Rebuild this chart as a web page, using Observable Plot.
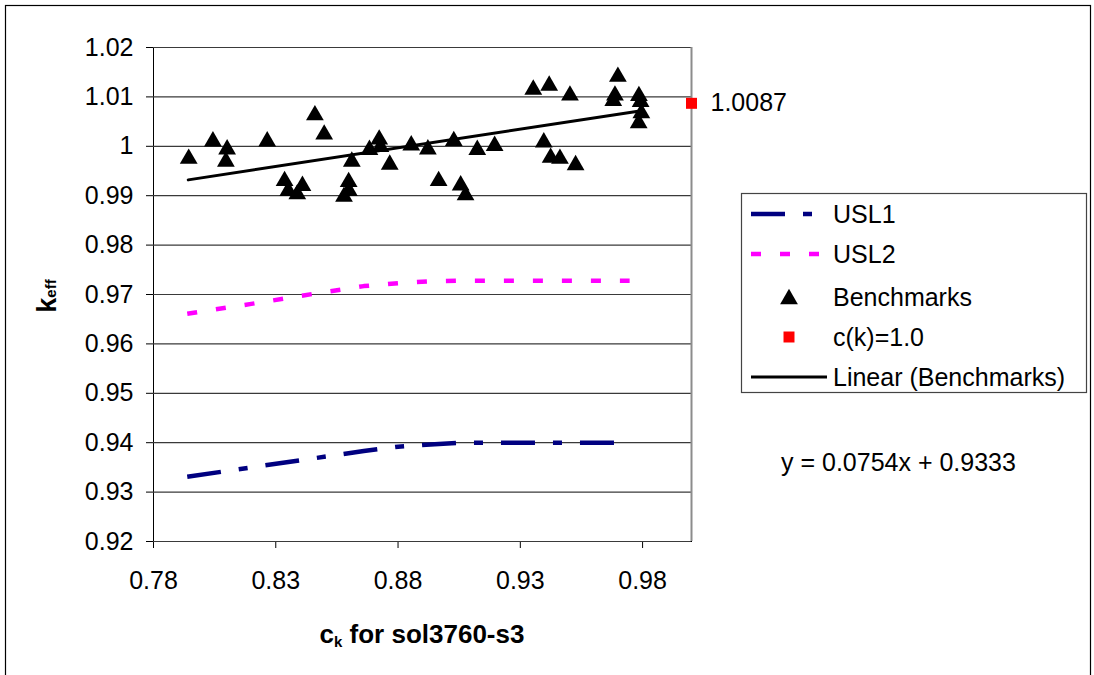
<!DOCTYPE html>
<html>
<head>
<meta charset="utf-8">
<script src="https://cdn.jsdelivr.net/npm/d3@7"></script>
<script src="https://cdn.jsdelivr.net/npm/@observablehq/plot@0.6"></script>
<style>
  html, body { margin: 0; padding: 0; background: #fff; }
  #wrap { position: relative; width: 1094px; height: 675px; overflow: hidden; font-family: "Liberation Sans", Arial, sans-serif; }
  #wrap svg { position: absolute; left: 0; top: 0; }
</style>
</head>
<body>
<div id="wrap"></div>
<script>
// ---- data ----
const benchX = [0.7944, 0.8043, 0.8101, 0.8096, 0.8265, 0.8460, 0.8498, 0.8336, 0.8351, 0.8388,
                0.8409, 0.8611, 0.8598, 0.8599, 0.8579, 0.8683, 0.8723, 0.8728, 0.8766, 0.8854,
                0.8922, 0.9028, 0.9124, 0.9195, 0.8966, 0.9056, 0.9076, 0.9396, 0.9424, 0.9462,
                0.9526, 0.9353, 0.9418, 0.9503, 0.9699, 0.9687, 0.9680, 0.9785, 0.9792, 0.9795, 0.9784];
const benchY = [0.9979, 1.0014, 0.9998, 0.9973, 1.0014, 1.0067, 1.0028, 0.9934, 0.9914, 0.9907,
                0.9924, 0.9973, 0.9932, 0.9914, 0.9902, 0.9997, 1.0018, 1.0003, 0.9967, 1.0006,
                0.9998, 1.0015, 0.9997, 1.0005, 0.9934, 0.9925, 0.9905, 1.0012, 0.9981, 0.9979,
                0.9966, 1.0119, 1.0127, 1.0107, 1.0145, 1.0107, 1.0096, 1.0106, 1.0094, 1.0071, 1.0051];

const uslX  = [0.7938, 0.8200, 0.8450, 0.8660, 0.8800, 0.8950, 0.9050, 0.9747];
const usl1Y = [0.9331, 0.9350, 0.9368, 0.9383, 0.9392, 0.9397, 0.9400, 0.9400];
const usl2Y = [0.9661, 0.9681, 0.9701, 0.9717, 0.9723, 0.9727, 0.9728, 0.9728];

const trendX = [0.7942, 0.9795];
const trendY = [0.9932, 1.0072];

const ckX = [1.0];
const ckY = [1.0087];
const ckLabel = ["1.0087"];

const xTicks = [0.78, 0.83, 0.88, 0.93, 0.98];
const yTicks = [0.92, 0.93, 0.94, 0.95, 0.96, 0.97, 0.98, 0.99, 1.00, 1.01, 1.02];

const legendLabels = ["USL1", "USL2", "Benchmarks", "c(k)=1.0", "Linear (Benchmarks)"];
const equationText = "y = 0.0754x + 0.9333";

// ---- tables ----
const bench = benchX.map((x, i) => ({x, y: benchY[i]}));
const usl1 = uslX.map((x, i) => ({x, y: usl1Y[i]}));
const usl2 = uslX.map((x, i) => ({x, y: usl2Y[i]}));
const trend = trendX.map((x, i) => ({x, y: trendY[i]}));
const ck = ckX.map((x, i) => ({x, y: ckY[i], label: ckLabel[i]}));

const fmt = d => String(Math.round(d * 100) / 100);

const FS = 25;
const TRI_R = 6.6;
const SQ_R = 6.2;
const USL1_DASH = "34,18,9,18";
const USL2_DASH = "10,19";

const chart = Plot.plot({
  width: 1094,
  height: 675,
  marginLeft: 153,
  marginRight: 403,
  marginTop: 47,
  marginBottom: 134,
  style: {fontFamily: "'Liberation Sans', Arial, sans-serif", fontSize: FS + "px", color: "#000", background: "transparent", overflow: "visible"},
  x: {domain: [0.78, 1.0], ticks: xTicks, tickFormat: fmt, tickSize: 7, tickPadding: 23, label: null, line: true},
  y: {domain: [0.92, 1.02], ticks: yTicks, tickFormat: fmt, tickSize: 7, tickPadding: 13, label: null, line: true},
  marks: [
    Plot.ruleY(yTicks, {stroke: "#3a3a3a", strokeWidth: 1.2}),
    Plot.ruleX([1.0], {stroke: "#8c8c8c", strokeWidth: 2}),
    Plot.line(usl2, {x: "x", y: "y", stroke: "#ff00ff", strokeWidth: 4.5, strokeDasharray: USL2_DASH, strokeLinecap: "butt"}),
    Plot.line(usl1, {x: "x", y: "y", stroke: "#000080", strokeWidth: 4.5, strokeDasharray: USL1_DASH, strokeLinecap: "butt"}),
    Plot.line(trend, {x: "x", y: "y", stroke: "#000", strokeWidth: 3}),
    Plot.dot(bench, {x: "x", y: "y", symbol: "triangle", r: TRI_R, fill: "#000", stroke: "none", dy: 2}),
    Plot.dot(ck, {x: "x", y: "y", symbol: "square", r: SQ_R, fill: "#ff0000", stroke: "none"}),
    Plot.text(ck, {x: "x", y: "y", text: "label", textAnchor: "start", dx: 19, fontSize: FS, fill: "#000"})
  ]
});

const wrap = document.getElementById("wrap");
wrap.appendChild(chart);

// ---- overlay: frame, axis titles, legend, equation ----
const ns = "http://www.w3.org/2000/svg";
const ov = d3.select(wrap).append("svg")
  .attr("xmlns", ns).attr("width", 1094).attr("height", 675)
  .style("font-family", "'Liberation Sans', Arial, sans-serif")
  .style("pointer-events", "none");

// outer chart border
ov.append("rect").attr("x", 5.5).attr("y", 5.5).attr("width", 1085).attr("height", 720)
  .attr("fill", "none").attr("stroke", "#000").attr("stroke-width", 1.2);

// y-axis title k_eff
const yt = ov.append("text")
  .attr("transform", "translate(56,296) rotate(-90)")
  .attr("text-anchor", "middle")
  .attr("font-weight", "bold")
  .attr("font-size", 27);
yt.append("tspan").text("k");
yt.append("tspan").attr("font-size", 15).attr("dy", 0).text("eff");

// x-axis title c_k for sol3760-s3
const xt = ov.append("text")
  .attr("x", 422).attr("y", 643)
  .attr("text-anchor", "middle")
  .attr("font-weight", "bold")
  .attr("font-size", 26);
xt.append("tspan").text("c");
xt.append("tspan").attr("font-size", 15).attr("dy", 4).text("k");
xt.append("tspan").attr("dy", -4).text(" for sol3760-s3");

// legend
const lg = ov.append("g");
lg.append("rect").attr("x", 741.5).attr("y", 193.5).attr("width", 345).attr("height", 199)
  .attr("fill", "#fff").attr("stroke", "#444").attr("stroke-width", 1.2);
const rowsY = [214, 254, 297, 337, 377];
const sx0 = 751, sx1 = 827, tx = 833;
lg.append("line").attr("x1", sx0).attr("x2", sx1).attr("y1", rowsY[0]).attr("y2", rowsY[0])
  .attr("stroke", "#000080").attr("stroke-width", 4.5).attr("stroke-dasharray", USL1_DASH);
lg.append("line").attr("x1", sx0).attr("x2", sx1).attr("y1", rowsY[1]).attr("y2", rowsY[1])
  .attr("stroke", "#ff00ff").attr("stroke-width", 4.5).attr("stroke-dasharray", USL2_DASH);
lg.append("path").attr("d", d3.symbol(d3.symbolTriangle, Math.PI * TRI_R * TRI_R)())
  .attr("transform", `translate(789,${rowsY[2] + 2})`).attr("fill", "#000");
lg.append("path").attr("d", d3.symbol(d3.symbolSquare, Math.PI * SQ_R * SQ_R)())
  .attr("transform", `translate(789,${rowsY[3]})`).attr("fill", "#ff0000");
lg.append("line").attr("x1", sx0).attr("x2", sx1).attr("y1", rowsY[4]).attr("y2", rowsY[4])
  .attr("stroke", "#000").attr("stroke-width", 3);
legendLabels.forEach((t, i) => {
  lg.append("text").attr("x", tx).attr("y", rowsY[i]).attr("dy", "0.35em")
    .attr("font-size", FS).attr("fill", "#000").text(t);
});

// trendline equation
ov.append("text").attr("x", 781).attr("y", 462).attr("dy", "0.35em")
  .attr("font-size", FS).attr("fill", "#000").text(equationText);
</script>
</body>
</html>
